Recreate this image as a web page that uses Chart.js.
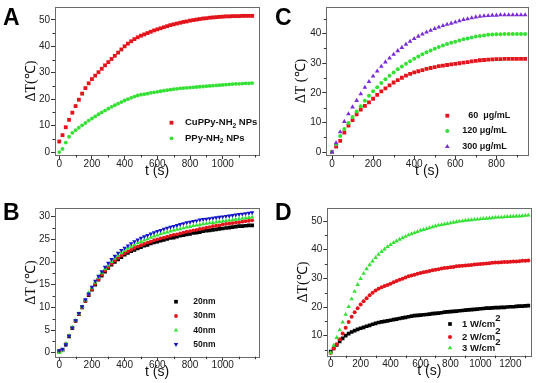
<!DOCTYPE html>
<html><head><meta charset="utf-8">
<script src="https://cdn.jsdelivr.net/npm/chart.js@4"></script>
<style>
html,body{margin:0;padding:0;background:#fff;}
#wrap{position:relative;width:537px;height:383px;overflow:hidden;background:#fff;}
canvas{position:absolute;}
</style></head><body>
<div id="wrap">
<canvas id="cA" width="268" height="190" style="left:0;top:0;width:268px;height:190px"></canvas>
<canvas id="cC" width="269" height="190" style="left:268px;top:0;width:269px;height:190px"></canvas>
<canvas id="cB" width="268" height="193" style="left:0;top:190px;width:268px;height:193px"></canvas>
<canvas id="cD" width="269" height="193" style="left:268px;top:190px;width:269px;height:193px"></canvas>
</div>
<script>
// ---------------- DATA ----------------
const timeAB = [0,20,40,60,80,100,120,140,160,180,200,220,240,260,280,300,320,340,360,380,400,420,440,460,480,500,520,540,560,580,600,620,640,660,680,700,720,740,760,780,800,820,840,860,880,900,920,940,960,980,1000,1020,1040,1060,1080,1100,1120,1140,1160,1180];
const timeC = [0,20,40,60,80,100,120,140,160,180,200,220,240,260,280,300,320,340,360,380,400,420,440,460,480,500,520,540,560,580,600,620,640,660,680,700,720,740,760,780,800,820,840,860,880,900,920,940];
const timeD = [0,20,40,60,80,100,120,140,160,180,200,220,240,260,280,300,320,340,360,380,400,420,440,460,480,500,520,540,560,580,600,620,640,660,680,700,720,740,760,780,800,820,840,860,880,900,920,940,960,980,1000,1020,1040,1060,1080,1100,1120,1140,1160,1180,1200,1220,1240,1260,1280,1300,1320];

// Panel A
const labelsA = ['CuPPy-NH₂ NPs','PPy-NH₂ NPs'];
const aCuPPy = [4.0,6.4,9.4,12.2,14.9,17.4,19.8,22.1,24.2,26.0,27.6,28.9,30.2,31.5,32.8,34.0,35.2,36.4,37.6,38.8,40.0,41.0,41.9,42.7,43.4,44.0,44.5,45.0,45.5,46.0,46.4,46.8,47.2,47.6,48.0,48.3,48.6,48.9,49.2,49.4,49.7,49.9,50.1,50.3,50.5,50.6,50.8,50.9,51.0,51.1,51.2,51.3,51.3,51.4,51.4,51.4,51.5,51.5,51.5,51.5];
const aPPy = [0.0,1.2,3.6,5.8,7.3,8.3,9.2,10.1,11.0,11.9,12.7,13.5,14.3,15.0,15.7,16.4,17.1,17.7,18.3,18.9,19.5,20.0,20.5,21.0,21.4,21.7,21.9,22.1,22.4,22.6,22.8,23.0,23.2,23.4,23.6,23.8,23.9,24.1,24.2,24.3,24.4,24.5,24.6,24.7,24.8,24.9,25.0,25.1,25.2,25.3,25.4,25.5,25.6,25.7,25.8,25.8,25.9,26.0,26.0,26.1];

// Panel B
const labelsB = ['20nm','30nm','40nm','50nm'];
const b20 = [0.3,0.6,1.8,3.6,5.4,7.0,8.5,10.0,11.4,12.7,13.9,15.0,16.1,17.0,17.9,18.7,19.4,20.0,20.6,21.1,21.6,22.0,22.4,22.7,23.0,23.3,23.6,23.8,24.1,24.3,24.5,24.7,24.9,25.1,25.3,25.4,25.6,25.8,25.9,26.1,26.2,26.4,26.5,26.6,26.8,26.9,27.0,27.1,27.2,27.3,27.4,27.5,27.6,27.7,27.8,27.9,27.9,28.0,28.1,28.1];
const b30 = [0.3,0.6,1.9,3.7,5.5,7.0,8.5,10.0,11.4,12.8,14.0,15.2,16.2,17.2,18.1,18.9,19.6,20.3,20.9,21.4,21.9,22.3,22.7,23.1,23.4,23.7,24.0,24.3,24.5,24.8,25.0,25.2,25.4,25.6,25.8,26.0,26.1,26.3,26.5,26.7,26.8,27.0,27.1,27.3,27.4,27.6,27.7,27.9,28.0,28.1,28.3,28.4,28.5,28.6,28.7,28.8,28.9,29.0,29.1,29.2];
const b40 = [0.0,0.4,2.0,3.8,5.6,7.1,8.6,10.1,11.6,13.2,14.3,15.5,16.6,17.6,18.5,19.3,20.1,20.8,21.4,22.0,22.5,23.0,23.4,23.8,24.2,24.5,24.8,25.1,25.4,25.7,25.9,26.2,26.4,26.6,26.8,27.0,27.2,27.3,27.5,27.7,27.8,28.0,28.1,28.2,28.4,28.5,28.6,28.7,28.8,28.9,29.0,29.1,29.2,29.3,29.4,29.5,29.6,29.7,29.8,29.9];
const b50 = [0.5,0.8,1.8,3.7,5.5,7.1,8.7,10.2,11.7,13.0,14.5,15.8,16.9,17.9,18.9,19.8,20.6,21.3,22.0,22.6,23.1,23.6,24.1,24.5,24.9,25.3,25.6,25.9,26.2,26.5,26.8,27.0,27.3,27.5,27.7,27.9,28.1,28.3,28.5,28.7,28.8,29.0,29.1,29.3,29.4,29.5,29.6,29.7,29.8,29.9,30.0,30.1,30.2,30.3,30.4,30.5,30.6,30.7,30.8,30.9];

// Panel C
const labelsC = ['60  μg/mL','120 μg/mL','300 μg/mL'];
const c60 = [0.0,1.8,3.8,6.6,8.9,10.8,12.7,14.3,15.6,16.8,18.0,19.3,20.5,21.5,22.5,23.5,24.3,25.1,25.8,26.4,26.9,27.3,27.7,28.1,28.4,28.7,29.0,29.2,29.4,29.6,29.8,30.0,30.2,30.4,30.6,30.8,31.0,31.1,31.2,31.3,31.4,31.4,31.5,31.5,31.5,31.5,31.5,31.5];
const c120 = [0.0,2.6,5.4,7.8,9.8,11.8,13.7,15.5,17.3,19.0,20.5,21.9,23.3,24.6,25.8,26.9,28.0,28.9,29.8,30.7,31.5,32.3,33.0,33.7,34.3,34.9,35.5,36.0,36.5,36.9,37.3,37.7,38.1,38.4,38.7,39.0,39.2,39.4,39.6,39.7,39.8,39.8,39.9,39.9,39.9,39.9,39.9,39.9];
const c300 = [0.0,3.1,6.8,10.3,12.9,15.2,17.4,19.6,21.8,23.8,25.6,27.3,28.9,30.4,31.7,33.0,34.2,35.3,36.4,37.4,38.3,39.1,39.8,40.5,41.1,41.7,42.2,42.7,43.1,43.5,43.9,44.3,44.7,45.0,45.3,45.6,45.8,46.0,46.1,46.2,46.2,46.3,46.3,46.3,46.3,46.3,46.3,46.3];

// Panel D
const labelsD = ['1 W/cm²','2 W/cm²','3 W/cm²'];
const d1 = [4.5,5.6,6.8,8.0,9.1,10.0,10.7,11.3,11.8,12.2,12.6,12.9,13.3,13.6,14.0,14.3,14.6,14.8,15.0,15.2,15.4,15.6,15.8,16.0,16.2,16.4,16.6,16.8,17.0,17.1,17.2,17.3,17.4,17.5,17.7,17.8,17.9,18.0,18.2,18.3,18.4,18.5,18.6,18.7,18.8,18.9,19.0,19.1,19.2,19.3,19.4,19.5,19.6,19.6,19.7,19.8,19.8,19.9,19.9,20.0,20.1,20.1,20.2,20.3,20.3,20.4,20.5];
const d2 = [4.0,5.5,7.0,8.8,10.8,12.8,14.8,16.6,18.2,19.6,20.9,22.0,23.1,24.1,25.0,25.8,26.4,26.9,27.3,27.7,28.1,28.6,29.1,29.5,29.9,30.3,30.7,31.0,31.3,31.6,31.9,32.1,32.3,32.6,32.8,33.0,33.2,33.4,33.6,33.7,33.9,34.0,34.2,34.3,34.4,34.5,34.6,34.7,34.8,34.9,35.0,35.1,35.2,35.3,35.4,35.5,35.5,35.6,35.7,35.7,35.8,35.9,35.9,36.0,36.1,36.1,36.2];
const d3 = [4.0,6.6,9.3,12.0,14.7,17.4,20.1,22.8,25.4,27.8,29.9,31.7,33.3,34.7,36.0,37.2,38.3,39.3,40.2,41.0,41.7,42.4,43.0,43.6,44.1,44.6,45.1,45.5,45.9,46.3,46.7,47.0,47.3,47.6,47.9,48.2,48.5,48.7,48.9,49.1,49.3,49.5,49.7,49.9,50.0,50.2,50.3,50.4,50.5,50.6,50.7,50.8,50.9,51.0,51.1,51.2,51.3,51.3,51.4,51.5,51.5,51.6,51.7,51.7,51.8,51.9,52.0];

// Tick labels
const xTicksAB = [0,200,400,600,800,1000];
const xTicksC = [0,200,400,600,800];
const xTicksD = [0,200,400,600,800,1000,1200];
const yTicksA = [0,10,20,30,40,50];
const yTicksB = [0,5,10,15,20,25,30];
const yTicksC = [0,10,20,30,40];
const yTicksD = [10,20,30,40,50];

const xTitle = 't (s)';
const yTitleA = 'ΔT(℃)', yTitleB = 'ΔT (℃)', yTitleC = 'ΔT (℃)', yTitleD = 'ΔT(℃)';

// ---------------- STYLE ----------------
const SANS = "'Liberation Sans', Arial, Helvetica, sans-serif";
const SERIF = "'Liberation Serif', 'Times New Roman', Times, serif";
const RED = '#e3141b', GREEN = '#33e033', PURPLE = '#7a2bd4', BLUE = '#1515c8', BLACK = '#000000';

function drawMarker(ctx, style, x, y, r, rot) {
  ctx.beginPath();
  if (style === 'rect') {
    const s = r * Math.SQRT1_2;
    ctx.rect(x - s, y - s, 2 * s, 2 * s);
  } else if (style === 'triangle') {
    let a = (rot || 0) * Math.PI / 180;
    ctx.moveTo(x + Math.sin(a) * r, y - Math.cos(a) * r);
    a += 2 * Math.PI / 3;
    ctx.lineTo(x + Math.sin(a) * r, y - Math.cos(a) * r);
    a += 2 * Math.PI / 3;
    ctx.lineTo(x + Math.sin(a) * r, y - Math.cos(a) * r);
    ctx.closePath();
  } else {
    ctx.arc(x, y, r, 0, Math.PI * 2);
  }
  ctx.fill();
}

function richText(ctx, text, x, y, size) {
  const runs = [];
  for (const ch of text) {
    const kind = ch === '²' ? 'sup' : (ch === '₂' ? 'sub' : 'n');
    const c = kind === 'n' ? ch : '2';
    if (runs.length && runs[runs.length - 1].k === kind) runs[runs.length - 1].t += c;
    else runs.push({k: kind, t: c});
  }
  let cx = x;
  for (const r of runs) {
    let sz = size, dy = 0;
    if (r.k === 'sup') { sz = size; dy = -size * 0.6; }
    if (r.k === 'sub') { sz = size * 0.7; dy = size * 0.35; }
    ctx.font = `bold ${sz}px ${SANS}`;
    ctx.fillText(r.t, cx, y + dy);
    cx += ctx.measureText(r.t).width;
  }
}

const insetLegend = {
  id: 'insetLegend',
  afterDraw(chart, args, o) {
    const ctx = chart.ctx;
    ctx.save();
    ctx.textBaseline = 'middle';
    ctx.textAlign = 'left';
    chart.data.datasets.forEach((ds, i) => {
      const y = o.ys[i];
      ctx.fillStyle = ds.backgroundColor;
      drawMarker(ctx, ds.pointStyle, o.mx, y, ds.pointRadius, ds.rotation);
      ctx.fillStyle = '#111';
      richText(ctx, ds.label, o.tx + (o.offsets ? o.offsets[i] : 0), y, o.size);
    });
    ctx.restore();
  }
};

const panelLetter = {
  id: 'panelLetter',
  afterDraw(chart, args, o) {
    const ctx = chart.ctx;
    ctx.save();
    ctx.fillStyle = '#000';
    ctx.font = `bold 23px ${SANS}`;
    ctx.textBaseline = 'alphabetic';
    ctx.textAlign = 'left';
    ctx.fillText(o.text, o.x, o.y);
    ctx.restore();
  }
};

const frameAndMinor = {
  id: 'frameAndMinor',
  afterDraw(chart, args, o) {
    const ctx = chart.ctx, a = chart.chartArea;
    ctx.save();
    ctx.strokeStyle = '#6a6a6a';
    ctx.lineWidth = 1;
    ctx.strokeRect(Math.round(a.left) + 0.5, Math.round(a.top) + 0.5,
                   Math.round(a.right) - Math.round(a.left), Math.round(a.bottom) - Math.round(a.top));
    ctx.strokeStyle = '#333';
    const xs = chart.scales.x, ys = chart.scales.y;
    const majX = xs.ticks.map(t => t.value), majY = ys.ticks.map(t => t.value);
    ctx.beginPath();
    for (let v = Math.ceil(xs.min / o.x) * o.x; v <= xs.max; v += o.x) {
      if (majX.some(m => Math.abs(m - v) < 1e-6)) continue;
      const px = Math.round(xs.getPixelForValue(v)) + 0.5;
      ctx.moveTo(px, a.bottom); ctx.lineTo(px, a.bottom + 2.5);
    }
    for (let v = Math.ceil(ys.min / o.y) * o.y; v <= ys.max; v += o.y) {
      if (majY.some(m => Math.abs(m - v) < 1e-6)) continue;
      const py = Math.round(ys.getPixelForValue(v)) + 0.5;
      ctx.moveTo(a.left, py); ctx.lineTo(a.left - 2.5, py);
    }
    ctx.stroke();
    ctx.restore();
  }
};

function makeChart(id, p) {
  const cv = document.getElementById(id);
  const W = cv.width, H = cv.height;
  const n = p.series.length;
  return new Chart(cv, {
    type: 'scatter',
    data: {
      datasets: p.series.map((s, i) => ({
        label: s.label,
        data: s.y.map((v, k) => ({x: p.t[k], y: v})),
        pointStyle: s.style, pointRadius: s.r, pointHoverRadius: s.r,
        rotation: s.rot || 0,
        backgroundColor: s.color, borderColor: s.color, borderWidth: 0,
        showLine: false, order: n - i
      }))
    },
    options: {
      responsive: false, animation: false, events: [],
      layout: {padding: {left: 0, top: p.frame.top, right: W - p.frame.right, bottom: 0}},
      scales: {
        x: {
          type: 'linear', position: 'bottom', min: p.x.min, max: p.x.max,
          afterBuildTicks: s => { s.ticks = p.x.ticks.map(v => ({value: v})); },
          afterFit: s => { s.height = H - p.frame.bottom; },
          ticks: {autoSkip: false, maxRotation: 0, padding: -1, color: '#222',
                  font: {family: SANS, size: 10}, callback: v => String(v)},
          grid: {drawOnChartArea: false, drawTicks: true, tickLength: 4, tickColor: '#333', tickWidth: 1},
          border: {display: false},
          title: {display: true, text: xTitle, color: '#111', font: {family: SANS, size: 14},
                  padding: {top: 0, bottom: p.x.titlePad}}
        },
        y: {
          type: 'linear', position: 'left', min: p.y.min, max: p.y.max,
          afterBuildTicks: s => { s.ticks = p.y.ticks.map(v => ({value: v})); },
          afterFit: s => { s.width = p.frame.left; },
          ticks: {autoSkip: false, padding: 1, color: '#222',
                  font: {family: SANS, size: 10}, callback: v => String(v)},
          grid: {drawOnChartArea: false, drawTicks: true, tickLength: 4, tickColor: '#333', tickWidth: 1},
          border: {display: false},
          title: {display: true, text: p.y.title, color: '#111', font: {family: SERIF, size: 14},
                  padding: {top: p.y.titlePad, bottom: 0}}
        }
      },
      plugins: {
        legend: {display: false}, tooltip: {enabled: false},
        insetLegend: p.legend,
        panelLetter: p.letter,
        frameAndMinor: {x: p.x.minor, y: p.y.minor}
      }
    },
    plugins: [frameAndMinor, insetLegend, panelLetter]
  });
}

makeChart('cA', {
  t: timeAB,
  frame: {left: 55, top: 5, right: 259, bottom: 155},
  x: {min: -26, max: 1222, ticks: xTicksAB, minor: 100, titlePad: 10.5},
  y: {min: -1.1, max: 54.85, ticks: yTicksA, minor: 5, title: yTitleA, titlePad: 23.3},
  series: [
    {label: labelsA[0], y: aCuPPy, color: RED, style: 'rect', r: 2.7},
    {label: labelsA[1], y: aPPy, color: GREEN, style: 'circle', r: 1.9}
  ],
  legend: {mx: 171.5, tx: 185, ys: [122.7, 138.3], size: 9.5},
  letter: {text: 'A', x: 3, y: 25}
});

makeChart('cC', {
  t: timeC,
  frame: {left: 58.3, top: 5, right: 260, bottom: 155},
  x: {min: -27.8, max: 954, ticks: xTicksC, minor: 100, titlePad: 10.5},
  y: {min: -1.0, max: 49.0, ticks: yTicksC, minor: 5, title: yTitleC, titlePad: 24.6},
  series: [
    {label: labelsC[0], y: c60, color: RED, style: 'rect', r: 2.7},
    {label: labelsC[1], y: c120, color: GREEN, style: 'circle', r: 2.0},
    {label: labelsC[2], y: c300, color: PURPLE, style: 'triangle', r: 2.7}
  ],
  legend: {mx: 179.3, tx: 194.3, ys: [115.7, 131, 146.7], offsets: [6, 0, 0], size: 9},
  letter: {text: 'C', x: 7, y: 25}
});

makeChart('cB', {
  t: timeAB,
  frame: {left: 55, top: 18.3, right: 259, bottom: 166.7},
  x: {min: -26, max: 1222, ticks: xTicksAB, minor: 100, titlePad: 2.0},
  y: {min: -0.88, max: 31.85, ticks: yTicksB, minor: 2.5, title: yTitleB, titlePad: 23.3},
  series: [
    {label: labelsB[0], y: b20, color: BLACK, style: 'rect', r: 2.6},
    {label: labelsB[1], y: b30, color: RED, style: 'circle', r: 1.9},
    {label: labelsB[2], y: b40, color: GREEN, style: 'triangle', r: 2.6},
    {label: labelsB[3], y: b50, color: BLUE, style: 'triangle', r: 2.6, rot: 180}
  ],
  legend: {mx: 176, tx: 193.3, ys: [111.7, 126, 140.3, 154.3], size: 8.5},
  letter: {text: 'B', x: 3, y: 30}
});

makeChart('cD', {
  t: timeD,
  frame: {left: 59.3, top: 18.3, right: 263.3, bottom: 165.7},
  x: {min: -22.7, max: 1340, ticks: xTicksD, minor: 100, titlePad: 3.0},
  y: {min: 3.03, max: 54.43, ticks: yTicksD, minor: 5, title: yTitleD, titlePad: 26.6},
  series: [
    {label: labelsD[0], y: d1, color: BLACK, style: 'rect', r: 2.6},
    {label: labelsD[1], y: d2, color: RED, style: 'circle', r: 2.0},
    {label: labelsD[2], y: d3, color: GREEN, style: 'triangle', r: 2.6}
  ],
  legend: {mx: 182, tx: 194, ys: [134, 147, 158], size: 9.5},
  letter: {text: 'D', x: 7, y: 30}
});
</script>
</body></html>
